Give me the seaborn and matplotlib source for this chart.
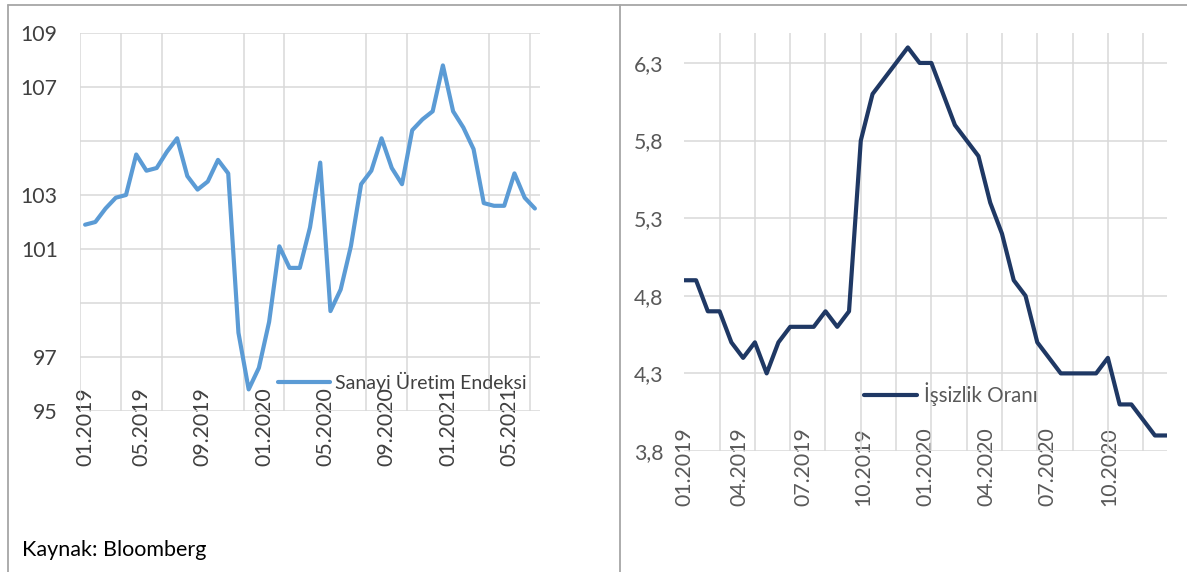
import matplotlib
matplotlib.use('Agg')
import matplotlib.pyplot as plt
from matplotlib.lines import Line2D
import numpy as np
import pandas as pd
import seaborn as sns

# Sanayi Üretim Endeksi (monthly, 45 points)
ipi_values = [101.9, 102.0, 102.5, 102.9, 103.0, 104.5, 103.9, 104.0, 104.6, 105.1,
              103.7, 103.2, 103.5, 104.3, 103.8, 97.9, 95.8, 96.6, 98.3, 101.1,
              100.3, 100.3, 101.8, 104.2, 98.7, 99.5, 101.1, 103.4, 103.9, 105.1,
              104.0, 103.4, 105.4, 105.8, 106.1, 107.8, 106.1, 105.5, 104.7, 102.7,
              102.6, 102.6, 103.8, 102.9, 102.5]
ipi_labels = ['01.2019', '05.2019', '09.2019', '01.2020', '05.2020', '09.2020',
              '01.2021', '05.2021']
ipi_yticks = [95, 97, 99, 101, 103, 105, 107, 109]
ipi_ytick_labels = ['95', '97', '', '101', '103', '', '107', '109']

# İşsizlik Oranı (monthly, 42 points)
unemp_values = [4.9, 4.9, 4.7, 4.7, 4.5, 4.4, 4.5, 4.3, 4.5, 4.6,
                4.6, 4.6, 4.7, 4.6, 4.7, 5.8, 6.1, 6.2, 6.3, 6.4,
                6.3, 6.3, 6.1, 5.9, 5.8, 5.7, 5.4, 5.2, 4.9, 4.8,
                4.5, 4.4, 4.3, 4.3, 4.3, 4.3, 4.4, 4.1, 4.1, 4.0,
                3.9, 3.9]
unemp_labels = ['01.2019', '04.2019', '07.2019', '10.2019', '01.2020', '04.2020',
                '07.2020', '10.2020']
unemp_yticks = [3.8, 4.3, 4.8, 5.3, 5.8, 6.3]
unemp_ytick_labels = ['3,8', '4,3', '4,8', '5,3', '5,8', '6,3']

sns.set_style('white')
plt.rcParams['font.family'] = ['Lato', 'DejaVu Sans']

W, H = 1187, 572
fig = plt.figure(figsize=(W / 100, H / 100), dpi=100)
ax1 = fig.add_axes([80 / W, (H - 411) / H, 460 / W, 378 / H])
ax2 = fig.add_axes([684.3 / W, (H - 451) / H, 482.4 / W, 418 / H])

grid_kw = dict(color='#d9d9d9', linewidth=1.1)

# left panel
df1 = pd.DataFrame({'ay': np.arange(len(ipi_values)), 'deger': ipi_values})
sns.lineplot(data=df1, x='ay', y='deger', ax=ax1, color='#5B9BD5', linewidth=3.0,
             label='Sanayi Üretim Endeksi', solid_joinstyle='round')
ax1.set_xlim(-0.5, len(ipi_values) - 0.5)
ax1.set_ylim(95, 109)
ax1.set_xticks(np.arange(-0.5, len(ipi_values) - 1, 4), minor=True)
ax1.set_xticks([0, 5.5, 11.5, 17.5, 23.5, 29.5, 35.5, 41.5])
ax1.set_xticklabels(ipi_labels, rotation=90)
ax1.set_yticks(ipi_yticks)
ax1.set_yticklabels(ipi_ytick_labels)
ax1.grid(False)
ax1.grid(which='minor', axis='x', **grid_kw)
ax1.grid(which='major', axis='y', **grid_kw)
ax1.set_axisbelow(True)
ax1.tick_params(which='both', length=0, labelsize=15.3, labelcolor='#404040')
ax1.tick_params(axis='x', pad=-17)
ax1.tick_params(axis='y', pad=16)
ax1.set_xlabel('')
ax1.set_ylabel('')
sns.despine(ax=ax1, left=True, bottom=True)
ax1.legend(loc='center left', bbox_to_anchor=(0.430, 0.077), frameon=False,
           borderpad=0, borderaxespad=0, handlelength=2.7, handletextpad=0.25,
           fontsize=14, labelcolor='#404040')

# right panel
df2 = pd.DataFrame({'ay': np.arange(len(unemp_values)), 'oran': unemp_values})
sns.lineplot(data=df2, x='ay', y='oran', ax=ax2, color='#1F3864', linewidth=3.0,
             label='İşsizlik Oranı', solid_joinstyle='round')
ax2.set_xlim(0, len(unemp_values) - 1)
ax2.set_ylim(3.8, 6.493)
ax2.set_xticks(np.arange(0, len(unemp_values) - 1, 3), minor=True)
ax2.set_xticks([0, 4.7, 10.1, 15.2, 20.5, 25.7, 30.9, 36.1])
ax2.set_xticklabels(unemp_labels, rotation=90)
ax2.set_yticks(unemp_yticks)
ax2.set_yticklabels(unemp_ytick_labels)
ax2.grid(False)
ax2.grid(which='minor', axis='x', **grid_kw)
ax2.grid(which='major', axis='y', **grid_kw)
ax2.set_axisbelow(True)
ax2.tick_params(which='both', length=0, labelsize=15.3, labelcolor='#595959')
ax2.tick_params(axis='x', pad=-17)
ax2.tick_params(axis='y', pad=15)
ax2.set_xlabel('')
ax2.set_ylabel('')
sns.despine(ax=ax2, left=True, bottom=True)
ax2.legend(loc='center left', bbox_to_anchor=(0.3725, 0.136), frameon=False,
           borderpad=0, borderaxespad=0, handlelength=2.6, handletextpad=0.3,
           fontsize=14.8, labelcolor='#595959')

# source note and panel frame
fig.text(22 / W, 1 - 550 / H, 'Kaynak: Bloomberg', va='center', ha='left',
         fontsize=15.5, color='#000000')
frame_kw = dict(transform=fig.transFigure, color='#a6a6a6', linewidth=1.3)
top_y = 1 - 4.7 / H
fig.add_artist(Line2D([7.5 / W, 1], [top_y, top_y], **frame_kw))
fig.add_artist(Line2D([7.5 / W, 7.5 / W], [0, top_y], **frame_kw))
fig.add_artist(Line2D([619.5 / W, 619.5 / W], [0, top_y], **frame_kw))

fig.savefig('out.png', dpi=100)
